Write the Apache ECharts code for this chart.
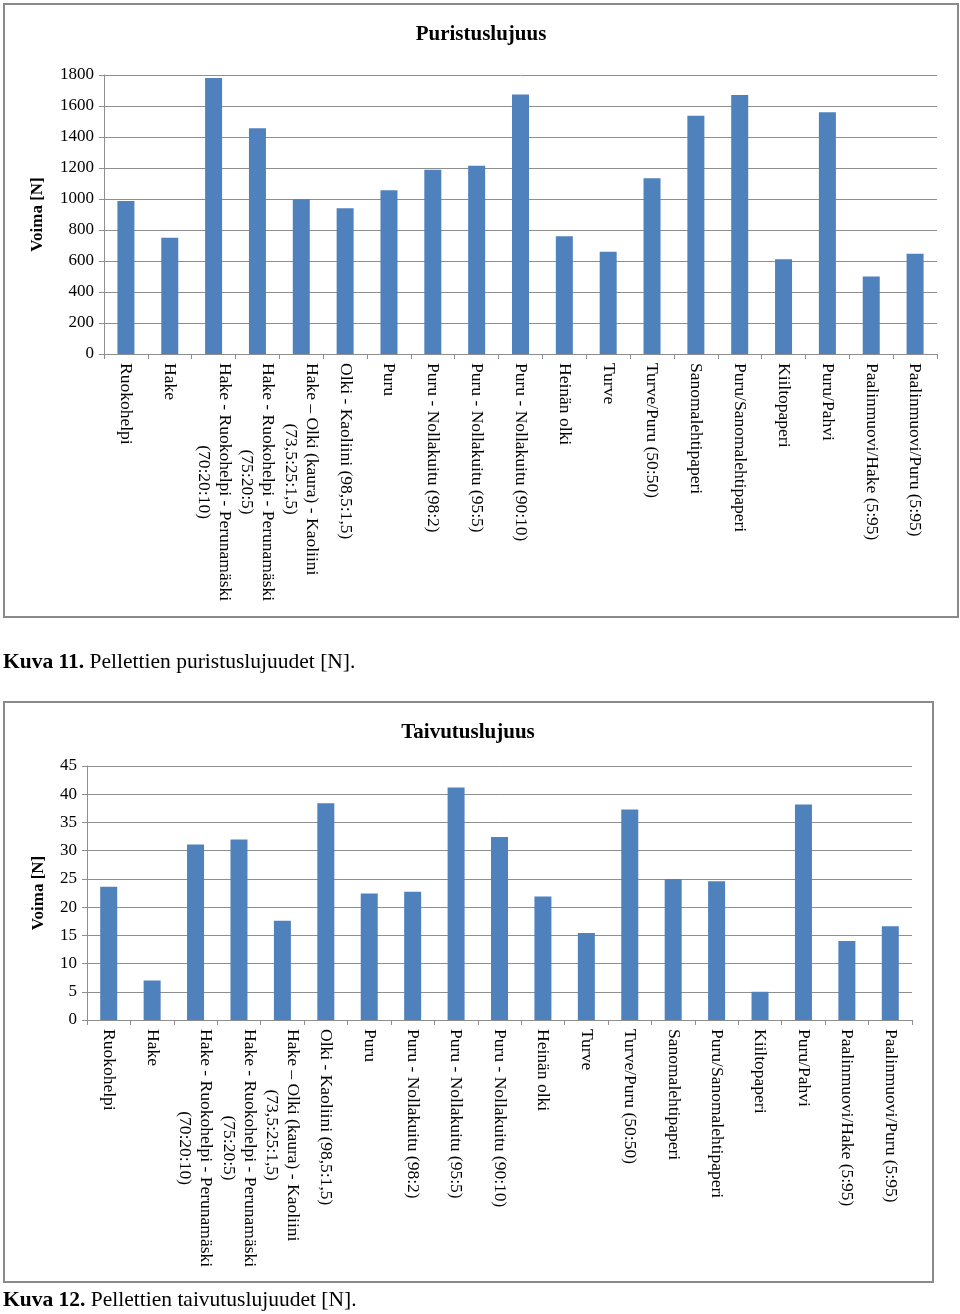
<!DOCTYPE html>
<html>
<head>
<meta charset="utf-8">
<script src="https://cdn.jsdelivr.net/npm/echarts@6/dist/echarts.min.js"></script>
<style>
html,body{margin:0;padding:0;background:#fff;}
#c{width:960px;height:1314px;}
</style>
</head>
<body>
<div id="c"></div>
<script>
const categories = [
  'Ruokohelpi',
  'Hake',
  'Hake - Ruokohelpi - Perunamäski\n(70:20:10)',
  'Hake - Ruokohelpi - Perunamäski\n(75:20:5)',
  'Hake – Olki (kaura) - Kaoliini\n(73,5:25:1,5)',
  'Olki - Kaoliini (98,5:1,5)',
  'Puru',
  'Puru - Nollakuitu (98:2)',
  'Puru - Nollakuitu (95:5)',
  'Puru - Nollakuitu (90:10)',
  'Heinän olki',
  'Turve',
  'Turve/Puru (50:50)',
  'Sanomalehtipaperi',
  'Puru/Sanomalehtipaperi',
  'Kiiltopaperi',
  'Puru/Pahvi',
  'Paalinmuovi/Hake (5:95)',
  'Paalinmuovi/Puru (5:95)'
];
const puristusValues = [987, 750, 1781, 1457, 998, 940, 1056, 1188, 1214, 1675, 759, 660, 1134, 1537, 1671, 612, 1559, 500, 647];
const taivutusValues = [23.6, 7.0, 31.1, 32.0, 17.6, 38.4, 22.4, 22.7, 41.2, 32.4, 21.9, 15.4, 37.3, 25.0, 24.6, 5.0, 38.2, 14.0, 16.6];
const title1 = 'Puristuslujuus';
const title2 = 'Taivutuslujuus';
const yName = 'Voima [N]';
const caption1 = ['Kuva 11.', ' Pellettien puristuslujuudet [N].'];
const caption2 = ['Kuva 12.', ' Pellettien taivutuslujuudet [N].'];

const SERIF = '"Liberation Serif", "DejaVu Serif", serif';
const BLUE = '#4f81bd';
const GRID = '#8e8e8e';

function catLabel(v) {
  return v.split('\n').map(s => '{c|' + s + '}').join('\n');
}

function xAxisDef(gi) {
  return {
    type: 'category', gridIndex: gi, data: categories,
    axisLine: {lineStyle: {color: GRID, width: 1}},
    axisTick: {show: true, length: 5, lineStyle: {color: GRID}},
    axisLabel: {
      interval: 0, rotate: -90, margin: 9, color: '#000',
      formatter: catLabel,
      rich: {c: {align: 'center', fontFamily: SERIF, fontSize: 17.5, lineHeight: 21, color: '#000'}}
    }
  };
}
function yAxisDef(gi, max, interval, nameGap) {
  return {
    type: 'value', gridIndex: gi, min: 0, max: max, interval: interval,
    name: yName, nameLocation: 'middle', nameGap: nameGap, nameRotate: 90,
    nameTextStyle: {fontFamily: SERIF, fontSize: 17, fontWeight: 'bold', color: '#000'},
    axisLine: {show: true, lineStyle: {color: GRID, width: 1}},
    axisTick: {show: true, length: 5, lineStyle: {color: GRID}},
    axisLabel: {margin: 10, fontFamily: SERIF, fontSize: 17, color: '#000',
                formatter: v => String(v)},
    splitLine: {lineStyle: {color: GRID, width: 1}}
  };
}

const chart = echarts.init(document.getElementById('c'), null, {renderer: 'canvas'});
chart.setOption({
  animation: false,
  backgroundColor: '#fff',
  title: [
    {text: title1, left: 476, top: 19, textAlign: 'center',
     textStyle: {fontFamily: SERIF, fontSize: 21, fontWeight: 'bold', color: '#000'}},
    {text: title2, left: 463, top: 717, textAlign: 'center',
     textStyle: {fontFamily: SERIF, fontSize: 21, fontWeight: 'bold', color: '#000'}}
  ],
  grid: [
    {left: 104, right: 23, top: 75, height: 279},
    {left: 87, right: 48, top: 766, height: 254}
  ],
  xAxis: [xAxisDef(0), xAxisDef(1)],
  yAxis: [yAxisDef(0, 1800, 200, 58), yAxisDef(1, 45, 5, 40)],
  series: [
    {type: 'bar', xAxisIndex: 0, yAxisIndex: 0, data: puristusValues, barWidth: 17,
     itemStyle: {color: BLUE}},
    {type: 'bar', xAxisIndex: 1, yAxisIndex: 1, data: taivutusValues, barWidth: 17,
     itemStyle: {color: BLUE}}
  ],
  graphic: [
    {type: 'rect', shape: {x: 4, y: 4, width: 954, height: 613}, style: {fill: 'none', stroke: '#8a8a8a', lineWidth: 2}, z: 10},
    {type: 'rect', shape: {x: 4, y: 702, width: 929, height: 580}, style: {fill: 'none', stroke: '#8a8a8a', lineWidth: 2}, z: 10},
    {type: 'text', x: 3, y: 662, style: {
      text: '{b|' + caption1[0] + '}{r|' + caption1[1] + '}', verticalAlign: 'middle',
      rich: {b: {fontFamily: SERIF, fontSize: 21.5, fontWeight: 'bold', fill: '#000'},
             r: {fontFamily: SERIF, fontSize: 21.5, fill: '#000'}}}},
    {type: 'text', x: 3, y: 1300, style: {
      text: '{b|' + caption2[0] + '}{r|' + caption2[1] + '}', verticalAlign: 'middle',
      rich: {b: {fontFamily: SERIF, fontSize: 21.5, fontWeight: 'bold', fill: '#000'},
             r: {fontFamily: SERIF, fontSize: 21.5, fill: '#000'}}}}
  ]
});
</script>
</body>
</html>
